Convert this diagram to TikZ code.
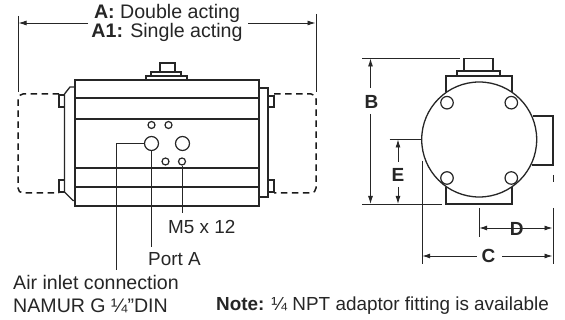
\documentclass[tikz,border=0pt]{standalone}
\usepackage{fontspec}
\setmainfont{Liberation Sans}
\usetikzlibrary{arrows.meta}

\begin{document}
\begin{tikzpicture}[x=1pt,y=-1pt,every node/.style={text=black!85,font=\fontsize{18.9}{18}\selectfont},every text node part/.style={align=center},
outline/.style={line width=1.3pt,black!85},thinline/.style={line width=0.9pt,black!85},dashline/.style={line width=1.5pt,black!90,dash pattern=on 6.5pt off 4.5pt},
dimline/.style={line width=0.9pt,black!85,-{Latex[length=8pt,width=5pt]}},
hole/.style={circle,draw=black!85,line width=1.2pt,fill=white,inner sep=0pt},
plainlabel/.style={anchor=west,inner sep=0pt},widelabel/.style={plainlabel,font=\fontsize{19.6}{18}\selectfont},boldlabel/.style={inner sep=0pt,font=\fontsize{19}{18}\selectfont\bfseries}]
\useasboundingbox (0,0) rectangle (565,320);
\fill[white] (0,0) rectangle (565,320);

\draw[dashline,rounded corners=5pt] (59,94) -- (18,94) -- (18,193) -- (59,193);
\draw[dashline,rounded corners=5pt] (274,94) -- (316,94) -- (316,193) -- (274,193);
\draw[outline] (75,80) rectangle (259,206);
\draw[outline] (75,98) -- (259,98) (75,119) -- (259,119) (75,168) -- (259,168) (75,187) -- (259,187);
\draw[outline] (146,80) -- (146,76) -- (187,76) -- (187,80);
\draw[outline] (151,76) -- (151,72) -- (181,72) -- (181,76);
\draw[outline] (160,72) -- (160,63) -- (175,63) -- (175,72);
\draw[outline] (75,87) -- (70,87) -- (64.5,94) -- (64.5,192) -- (73,200.5) -- (75,200.5);
\draw[outline] (259,88) -- (268,88) -- (268,197) -- (259,197);
\draw[outline] (64.5,95) -- (59,95) -- (59,107) -- (64.5,107);
\draw[outline] (64.5,180) -- (59,180) -- (59,192) -- (64.5,192);
\draw[outline] (268,96) -- (274,96) -- (274,107) -- (268,107);
\draw[outline] (268,180) -- (274,180) -- (274,192) -- (268,192);

\node[hole,minimum size=7pt] (holeTopL) at (151.5,125) {};
\node[hole,minimum size=7pt] (holeTopR) at (168.5,125) {};
\node[hole,minimum size=14pt] (portAir) at (151.5,143.5) {};
\node[hole,minimum size=14pt] (portB) at (182.5,143.5) {};
\node[hole,minimum size=7pt] (holeBotL) at (165.5,161.5) {};
\node[hole,minimum size=7pt] (holeBotR) at (182,161.5) {};

\node[plainlabel] (labelMfive) at (168,227) {M5 x 12};
\node[plainlabel] (labelPort) at (148,259) {Port A};
\node[widelabel] (labelAir) at (13,282) {Air inlet connection};
\node[widelabel] (labelNamur) at (13,306) {NAMUR G ¼"DIN};
\node[plainlabel] (labelNote) at (216,306) {\textbf{Note:} ¼ NPT adaptor fitting is available};
\node[inner sep=0pt,font=\fontsize{19.6}{18}\selectfont] (labelA) at (167,23) {\textbf{A:} Double acting\\\textbf{A1:} Single acting};

\coordinate (endAir) at (116,270.5);
\coordinate (endPort) at (152.5,247);
\coordinate (endMfive) at (182.5,213);
\draw[thinline] (portAir.west) -| (endAir);
\draw[thinline] (portAir.south) -- (portAir.south |- endPort);
\draw[thinline] (holeBotR.south) -- (holeBotR.south |- endMfive);

\coordinate (extLtop) at (18,16);
\coordinate (extLbot) at (18,92);
\coordinate (extRtop) at (316,14);
\coordinate (extRbot) at (316,92);
\coordinate (tipAl) at (18.5,23);
\coordinate (tipAr) at (315.5,23);
\draw[thinline] (extLtop) -- (extLbot);
\draw[thinline] (extRtop) -- (extRbot);
\draw[dimline] (88,23) -- (tipAl);
\draw[dimline] (248,23) -- (tipAr);

\draw[outline] (446,92) -- (446,76) -- (512,76) -- (512,92);
\draw[outline] (457,76) -- (457,71) -- (500,71) -- (500,76);
\draw[outline] (464,71) -- (464,58.5) -- (493,58.5) -- (493,71);
\draw[outline] (446,187) -- (446,204) -- (512,204) -- (512,187);
\draw[outline] (533,116) -- (553,116) -- (553,165) -- (532,165);
\node[circle,draw=black!85,line width=1.3pt,minimum size=115pt,inner sep=0pt] (drum) at (479.2,139.5) {};
\node[hole,minimum size=12.5pt] (boltTL) at (447,102.7) {};
\node[hole,minimum size=12.5pt] (boltTR) at (511.3,102.7) {};
\node[hole,minimum size=12.5pt] (boltBL) at (447,178) {};
\node[hole,minimum size=12.5pt] (boltBR) at (511.3,178) {};

\node[boldlabel] (labelB) at (371.5,101.5) {B};
\node[boldlabel] (labelE) at (398,175) {E};
\node[boldlabel] (labelC) at (488.5,255.5) {C};
\node[boldlabel] (labelD) at (516.7,228.5) {D};

\coordinate (topB) at (370.5,58.5);
\coordinate (botB) at (370.5,204);
\coordinate (topE) at (398,139.5);
\coordinate (botE) at (398,204);
\coordinate (tickE) at (389.5,139.5);
\draw[thinline] (362,58.5) -- (460,58.5);
\draw[thinline] (362,204) -- (442,204);
\draw[thinline] (tickE) -- (drum.west);
\draw[dimline] (370.5,88) -- (topB);
\draw[dimline] (370.5,114) -- (botB);
\draw[dimline] (398,161.7) -- (topE);
\draw[dimline] (398,187) -- (botE);

\coordinate (extCl) at (422,160.7);
\coordinate (extClb) at (422,264.5);
\coordinate (extCr) at (553,208);
\coordinate (extCrb) at (553,264.5);
\coordinate (extDt) at (479,208);
\coordinate (extDb) at (479,236.7);
\coordinate (stubT) at (553,175);
\coordinate (stubB) at (553,182);
\draw[thinline] (extCl) -- (extClb);
\draw[thinline] (extCr) -- (extCrb);
\draw[thinline] (extDt) -- (extDb);
\draw[thinline] (stubT) -- (stubB);
\draw[dimline] (476.7,256) -- (422.2,256);
\draw[dimline] (502,256) -- (552.5,256);
\draw[{Latex[length=8pt,width=5pt]}-{Latex[length=8pt,width=5pt]},line width=0.9pt,black!85] (479.2,228) -- (552.5,228);
\end{tikzpicture}
\end{document}
